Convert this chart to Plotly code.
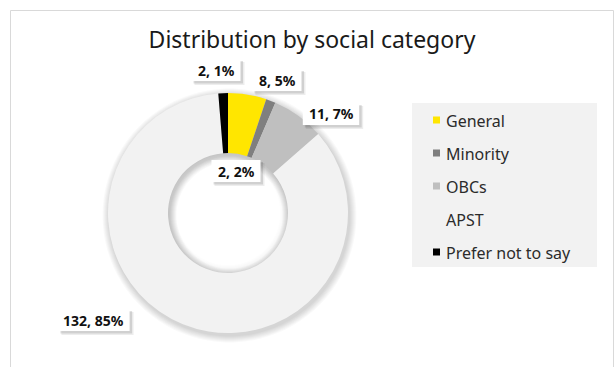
import math
import plotly.graph_objects as go

# Survey respondents by social category
categories = ["General", "Minority", "OBCs", "APST", "Prefer not to say"]
counts = [8, 2, 11, 132, 2]
pct_labels = [5, 2, 7, 85, 1]
colors = ["#FFE600", "#7F7F7F", "#BFBFBF", "#F2F2F2", "#000000"]

W, H = 615, 367
CX, CY, R_OUT, R_IN = 228, 213, 120, 60

# data-label anchor positions (px) for each category, same order as above
label_pos = [(277, 80), (236, 171), (331, 114), (94, 320), (216, 70)]


def px(x):
    return x / W


def py(y):
    return 1 - y / H


def ring_path(cx, cy, r1, r2, n=90):
    """Annulus between radii r1 < r2 as an SVG path in paper units."""
    def circle(r):
        pts = []
        for i in range(n + 1):
            a = 2 * math.pi * i / n
            pts.append((px(cx + r * math.cos(a)), py(cy + r * math.sin(a))))
        s = "M %.5f,%.5f " % pts[0]
        s += " ".join("L %.5f,%.5f" % p for p in pts[1:]) + " Z"
        return s
    return circle(r2) + " " + circle(r1)


def box(x0, y0, x1, y1, fill):
    return dict(type="rect", xref="paper", yref="paper",
                x0=px(x0), x1=px(x1), y0=py(y1), y1=py(y0),
                fillcolor=fill, line=dict(width=0))


fig = go.Figure()
fig.add_trace(go.Pie(
    labels=categories,
    values=counts,
    hole=R_IN / R_OUT,
    sort=False,
    direction="clockwise",
    rotation=0,
    marker=dict(colors=colors, line=dict(width=0)),
    textinfo="none",
    hoverinfo="label+value+percent",
    showlegend=False,
    domain=dict(x=[px(CX - R_OUT), px(CX + R_OUT)],
                y=[py(CY + R_OUT), py(CY - R_OUT)]),
))

shapes = []
# chart frame
shapes.append(dict(type="rect", xref="paper", yref="paper",
                   x0=px(10.5), x1=px(613.5), y0=py(380), y1=py(10.5),
                   line=dict(color="#D9D9D9", width=1), fillcolor="rgba(0,0,0,0)",
                   layer="below"))
# soft drop shadow around the ring
for k in range(7, 0, -1):
    shapes.append(dict(type="path", xref="paper", yref="paper",
                       path=ring_path(CX + 1.5, CY + 2.5, R_IN - k, R_OUT + k),
                       fillcolor="rgba(0,0,0,0.022)", line=dict(width=0),
                       fillrule="evenodd", layer="below"))
# inner shadow inside the hole
for k in range(1, 9):
    shapes.append(dict(type="path", xref="paper", yref="paper",
                       path=ring_path(CX, CY, R_IN - k, R_IN + 1),
                       fillcolor="rgba(0,0,0,0.009)", line=dict(width=0),
                       fillrule="evenodd", layer="below"))

# legend panel
shapes.append(box(412, 103, 597, 267, "#F2F2F2"))

annotations = []
item_y0, item_dy = 120, 33
for i, (cat, col) in enumerate(zip(categories, colors)):
    yy = item_y0 + i * item_dy
    shapes.append(box(433, yy - 3.5, 440, yy + 3.5, col))
    annotations.append(dict(xref="paper", yref="paper", x=px(444), y=py(yy + 0.5),
                            xanchor="left", yanchor="middle", showarrow=False,
                            text=cat,
                            font=dict(family="Noto Sans", size=16, color="#2B2B2B")))

# data labels: white boxes with a soft offset shadow
for i, (c, p) in enumerate(zip(counts, pct_labels)):
    lx, ly = label_pos[i]
    txt = f"{c}, {p}%"
    half_w = (len(txt) * 7.4 + 12) / 2
    half_h = 11
    x0, x1, y0, y1 = lx - half_w, lx + half_w, ly - half_h, ly + half_h
    shapes.append(box(x0 + 3, y0 + 3, x1 + 4, y1 + 4, "rgba(0,0,0,0.07)"))
    shapes.append(box(x0 + 2, y0 + 2, x1 + 2.5, y1 + 2.5, "rgba(0,0,0,0.12)"))
    shapes.append(box(x0, y0, x1, y1, "#FFFFFF"))
    annotations.append(dict(xref="paper", yref="paper", x=px(lx), y=py(ly),
                            xanchor="center", yanchor="middle", showarrow=False,
                            text=f"<b>{txt}</b>",
                            font=dict(family="Noto Sans", size=14, color="#111111")))

fig.update_layout(
    width=W, height=H,
    margin=dict(l=0, r=0, t=0, b=0),
    paper_bgcolor="#FFFFFF",
    plot_bgcolor="#FFFFFF",
    title=dict(text="Distribution by social category",
               x=px(312), xanchor="center", y=py(40), yanchor="middle",
               font=dict(family="Noto Sans", size=23, color="#1A1A1A")),
    shapes=shapes,
    annotations=annotations,
    showlegend=False,
)

fig.write_html("out.html")
